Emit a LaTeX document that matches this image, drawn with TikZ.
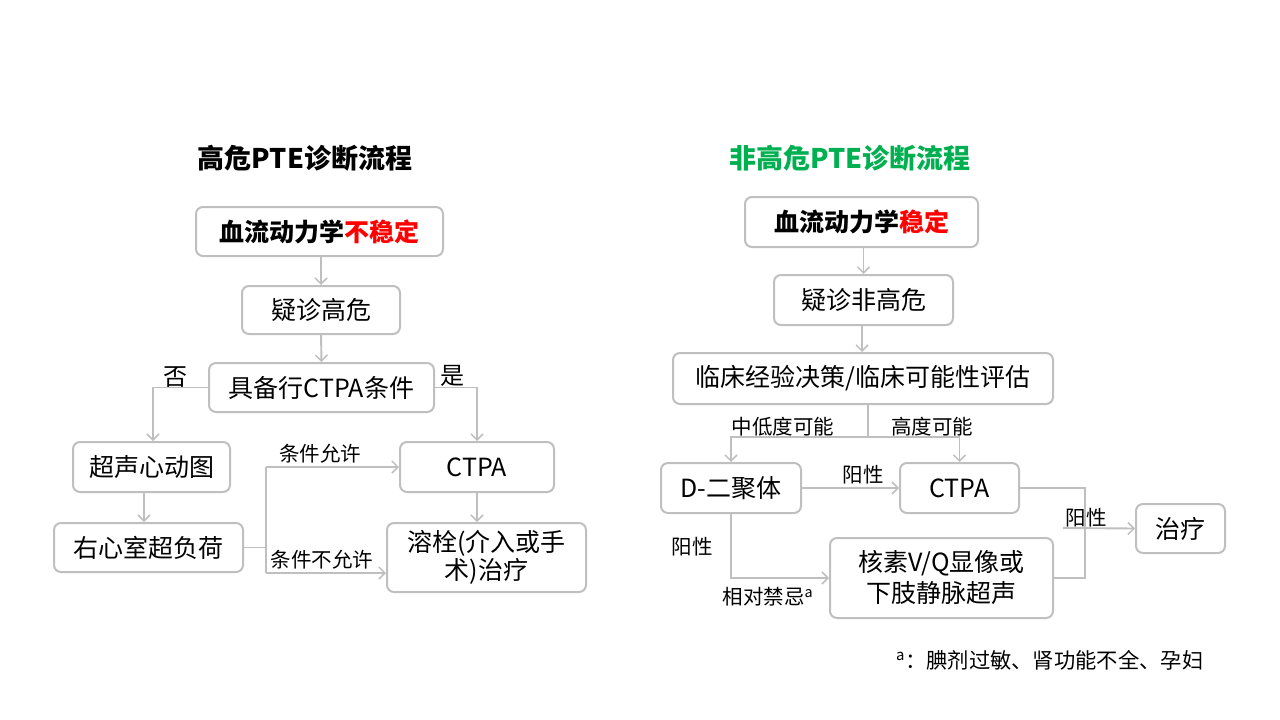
\documentclass[tikz,border=0pt]{standalone}
\usepackage{fontspec}
\setmainfont{Noto Sans CJK SC}
\usetikzlibrary{arrows.meta}
\definecolor{linegray}{HTML}{BFBFBF}
\definecolor{pptred}{HTML}{FF0000}
\definecolor{pptgreen}{HTML}{00B050}
\tikzset{
  box/.style={draw=linegray, line width=2pt, rounded corners=7pt, inner sep=0pt,
    align=center, font=\fontsize{25}{29}\selectfont},
  conn/.style={draw=linegray, line width=1.9pt},
  arr/.style={conn, -{Straight Barb[length=6pt,width=12pt,line width=1.5pt]}},
  lbl/.style={inner sep=0pt, font=\fontsize{20.5}{24}\selectfont},
  biglbl/.style={inner sep=0pt, font=\fontsize{24}{28}\selectfont},
  ttl/.style={inner sep=0pt, font=\fontsize{27}{32}\selectfont\bfseries}
}
\begin{document}
\begin{tikzpicture}[x=1pt,y=-1pt]
\useasboundingbox (0,0) rectangle (1280,720);
% ---------- left ----------
\node[ttl] (tL) at (305,158) {高危PTE诊断流程};
\node[box, minimum width=247pt, minimum height=49pt] (L1) at (319.5,231.5)
  {\bfseries 血流动力学\textcolor{pptred}{不稳定}};
\node[box, minimum width=158pt, minimum height=48pt] (L2) at (321,310) {疑诊高危};
\node[box, minimum width=225pt, minimum height=49pt] (L3) at (321.5,387.5) {具备行CTPA条件};
\node[box, minimum width=157pt, minimum height=50pt] (L4) at (151.5,467) {超声心动图};
\node[box, minimum width=189pt, minimum height=49pt] (L5) at (148.5,547.5) {右心室超负荷};
\node[box, minimum width=154pt, minimum height=50pt] (L6) at (477,467) {CTPA};
\node[box, minimum width=199pt, minimum height=69pt, font=\fontsize{25}{28}\selectfont] (L7) at (486.5,557.5) {溶栓(介入或手\\术)治疗};

\draw[arr] (L2.north |- L1.south) -- (L2.north);
\draw[arr] (L2.south) -- (L3.north);
\draw[arr] (L3.west) -| ([xshift=1.5pt]L4.north);
\draw[arr] (L3.east) -| (L6.north);
\draw[arr] ([xshift=-7.5pt]L4.south) -- ([xshift=-7.5pt]L4.south |- L5.north);
\draw[arr] (L6.south) -- (L6.south |- L7.north);
\coordinate (jt) at (266,467);
\coordinate (jb) at (266,573);
\draw[conn] (L5.east) -- (L5.east -| jt);
\draw[conn] (jt) -- (jb);
\draw[arr] (jt) -- (L6.west);
\draw[arr] (jb) -- (L7.west |- jb);
\node[biglbl] (nNo) at (175,377) {否};
\node[biglbl] (nYes) at (452,376) {是};
\node[lbl] (nAllow) at (320,454) {条件允许};
\node[lbl] (nNotAllow) at (322,560) {条件不允许};
% ---------- right ----------
\node[ttl, text=pptgreen] (tR) at (850,158) {非高危PTE诊断流程};
\node[box, minimum width=233pt, minimum height=50pt] (R1) at (861.5,222)
  {\bfseries 血流动力学\textcolor{pptred}{稳定}};
\node[box, minimum width=179pt, minimum height=50pt] (R2) at (863.5,300) {疑诊非高危};
\node[box, minimum width=380pt, minimum height=51pt] (R3) at (863,378.5) {临床经验决策/临床可能性评估};
\node[box, minimum width=140pt, minimum height=50pt] (R4) at (731,488) {D-二聚体};
\node[box, minimum width=119pt, minimum height=50pt] (R5) at (959.5,488) {CTPA};
\node[box, minimum width=223pt, minimum height=80pt, font=\fontsize{25}{31}\selectfont] (R6) at (941.5,578) {核素V/Q显像或\\下肢静脉超声};
\node[box, minimum width=89pt, minimum height=49pt] (R7) at (1180.5,528.5) {治疗};

\draw[arr] (R2.north |- R1.south) -- (R2.north);
\draw[arr] ([xshift=-1.5pt]R2.south) -- ([xshift=-1.5pt]R2.south |- R3.north);
\coordinate (rj) at (868,437);
\draw[conn] (R3.south -| rj) -- (rj);
\draw[arr] (rj) -| (R4.north);
\draw[arr] (rj) -| (R5.north);
\draw[arr] (R4.east) -- (R5.west);
\draw[arr] (R4.south) |- (R6.west);
\coordinate (rx) at (1085,528);
\draw[conn] (R5.east) -| (rx) |- (R6.east);
\coordinate (rs) at (1063,528);
\draw[arr] (rs) -- (R7.west);
\node[lbl] (lMid) at (783,427) {中低度可能};
\node[lbl] (lHigh) at (932,427) {高度可能};
\node[lbl] (lPos1) at (863,475) {阳性};
\node[lbl] (lPos2) at (692,547) {阳性};
\node[lbl] (lContra) at (768,597) {相对禁忌\textsuperscript{a}};
\node[lbl] (lPos3) at (1086,518) {阳性};
\node[lbl, anchor=west, font=\fontsize{21.3}{25}\selectfont] (foot) at (896,660) {\textsuperscript{a}：腆剂过敏、肾功能不全、孕妇};
\end{tikzpicture}
\end{document}
